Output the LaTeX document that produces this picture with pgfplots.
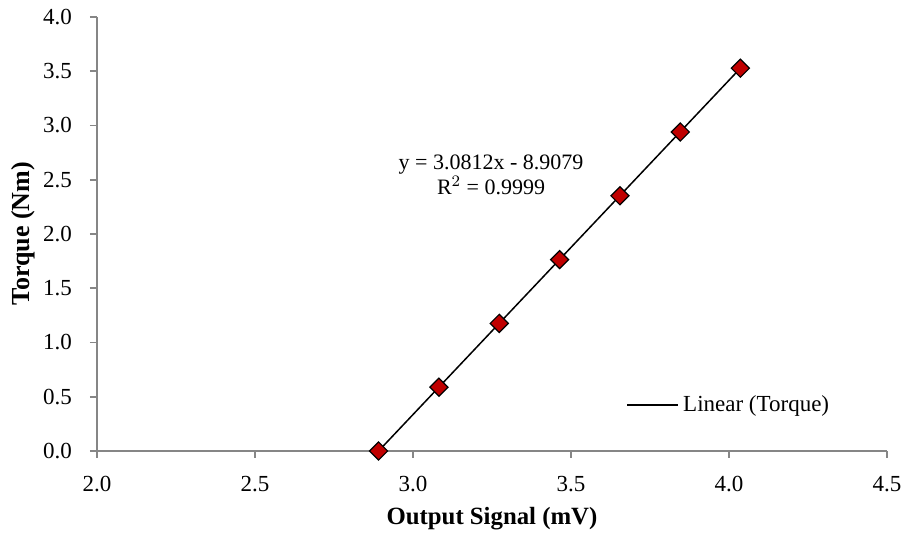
\documentclass[border=0pt]{standalone}
\usepackage{pgfplots}
\pgfplotsset{compat=1.18}
\usepackage{fontspec}
\setmainfont{Liberation Serif}
\definecolor{axgray}{RGB}{134,134,134}
\definecolor{mred}{RGB}{192,0,0}
\begin{document}
\begin{tikzpicture}
\begin{axis}[
  at={(0pt,0pt)}, anchor=origin,
  scale only axis, width=395pt, height=217pt,
  xmin=2.0, xmax=4.5, ymin=0, ymax=4.0,
  xtick={2.0,2.5,...,4.5}, ytick={0,0.5,...,4.0},
  axis lines=left,
  axis line style={axgray, line width=0.9pt, -},
  tick style={axgray, line width=0.9pt},
  tick align=outside, major tick length=3.5pt,
  xticklabel style={yshift=-5.5pt, font=\fontsize{11.5}{12}\selectfont},
  yticklabel style={xshift=-5.5pt, font=\fontsize{11.5}{12}\selectfont},
  /pgf/number format/fixed, /pgf/number format/fixed zerofill,
  /pgf/number format/precision=1,
  /pgf/number format/assume math mode=true,
  xlabel={\textbf{Output Signal (mV)}},
  xlabel style={at={(axis description cs:0.5,0)}, anchor=center, yshift=-34pt,
    font=\fontsize{12.4}{13}\selectfont},
  legend style={at={(0.67,0.106)}, anchor=west, draw=none, fill=none, inner sep=0pt,
    font=\fontsize{11.5}{12}\selectfont},
  legend cell align=left,
  legend image code/.code={\draw[#1] (0pt,0pt) -- (25.5pt,0pt);},
  clip=false,
]
\addplot[black, line width=0.75pt] coordinates {(2.891,0) (4.036,3.528)};
\addlegendentry{Linear (Torque)}
\addplot[only marks, mark=square*, mark size=3.2pt,
  mark options={rotate=45, fill=mred, draw=black, line width=0.6pt}, forget plot]
  coordinates {
  (2.891,0.000) (3.082,0.588) (3.273,1.176) (3.464,1.764)
  (3.655,2.352) (3.846,2.940) (4.036,3.528)
};
\node[align=center, font=\fontsize{11}{12.5}\selectfont] at (axis cs:3.247,2.545)
  {y = 3.0812x - 8.9079\\R$^2$ = 0.9999};
\node[rotate=90, anchor=center, font=\fontsize{13}{14}\selectfont]
  at ([xshift=-37pt]axis description cs:0,0.5) {\textbf{Torque (Nm)}};
\end{axis}
\pgfresetboundingbox
\path (-48.5pt,-41pt) rectangle (403.5pt,225.5pt);
\end{tikzpicture}
\end{document}
